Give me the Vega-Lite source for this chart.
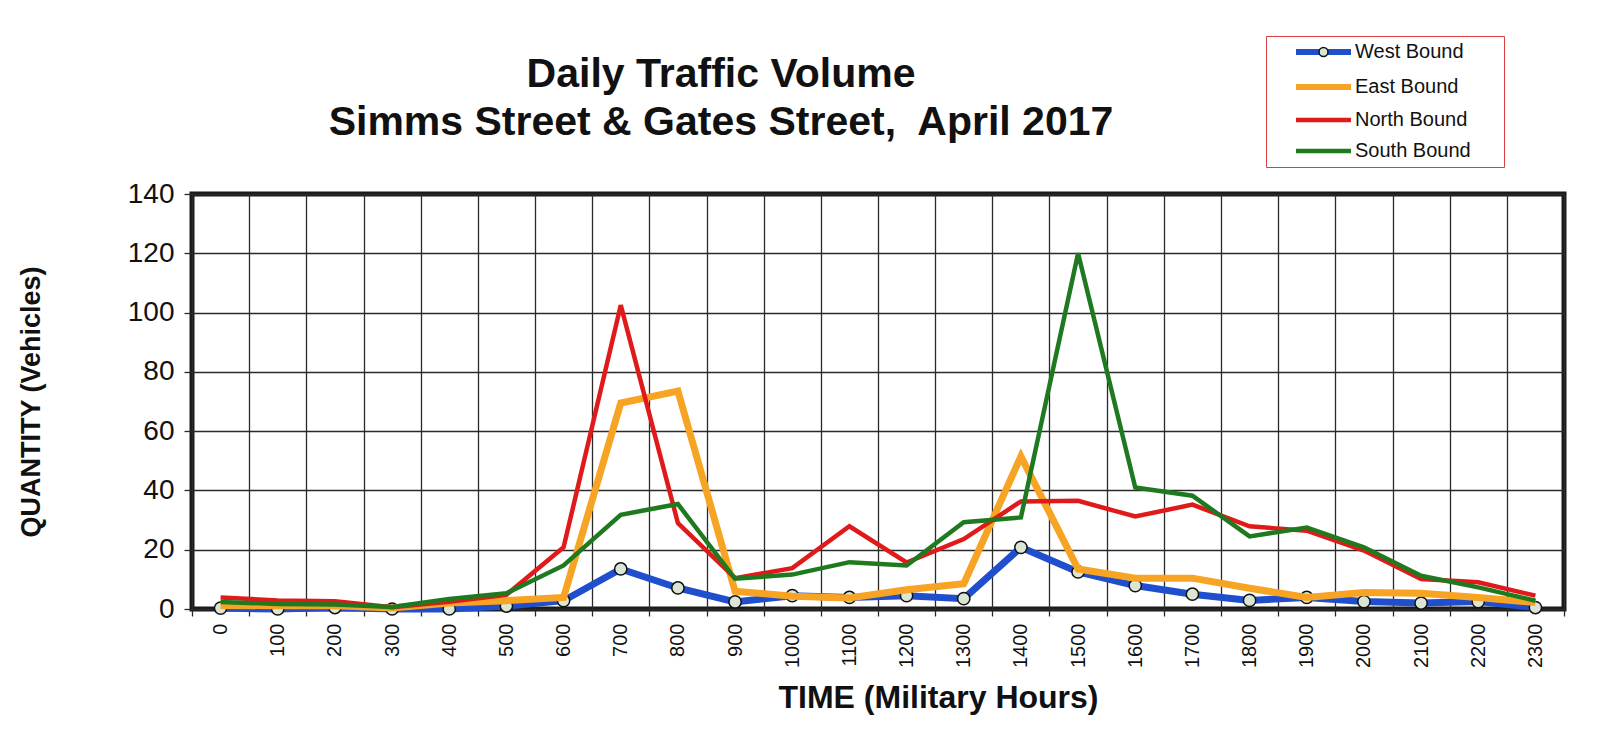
{
  "$schema": "https://vega.github.io/schema/vega-lite/v6.json",
  "autosize": {"type": "none"},
  "padding": {"left": 192, "top": 194, "right": 50, "bottom": 137},
  "width": 1372,
  "height": 415,
  "background": "white",
  "title": {
    "text": ["Daily Traffic Volume", "Simms Street & Gates Street,\u00a0 April 2017"],
    "font": "Liberation Sans",
    "fontSize": 41,
    "fontWeight": "bold",
    "lineHeight": 47.5,
    "color": "#111111",
    "anchor": "middle",
    "dx": -157,
    "dy": 138,
    "offset": 30
  },
  "data": {
    "values": [
      {"t": 0, "West Bound": 0.3, "East Bound": 1.2, "North Bound": 3.9, "South Bound": 2.4},
      {"t": 100, "West Bound": 0, "East Bound": 1.1, "North Bound": 2.9, "South Bound": 1.7},
      {"t": 200, "West Bound": 0.5, "East Bound": 1.1, "North Bound": 2.6, "South Bound": 1.5},
      {"t": 300, "West Bound": 0, "East Bound": 0.3, "North Bound": 0.6, "South Bound": 0.7},
      {"t": 400, "West Bound": 0, "East Bound": 2, "North Bound": 2.4, "South Bound": 3.4},
      {"t": 500, "West Bound": 1, "East Bound": 2.8, "North Bound": 4.8, "South Bound": 5.3},
      {"t": 600, "West Bound": 2.8, "East Bound": 3.9, "North Bound": 20.8, "South Bound": 14.7},
      {"t": 700, "West Bound": 13.5, "East Bound": 69.5, "North Bound": 102.5, "South Bound": 31.8},
      {"t": 800, "West Bound": 7.1, "East Bound": 73.5, "North Bound": 29, "South Bound": 35.4},
      {"t": 900, "West Bound": 2.4, "East Bound": 6, "North Bound": 10.4, "South Bound": 10.2},
      {"t": 1000, "West Bound": 4.5, "East Bound": 4.3, "North Bound": 13.8, "South Bound": 11.6},
      {"t": 1100, "West Bound": 3.9, "East Bound": 3.7, "North Bound": 27.9, "South Bound": 15.8},
      {"t": 1200, "West Bound": 4.5, "East Bound": 6.5, "North Bound": 15.7, "South Bound": 14.7},
      {"t": 1300, "West Bound": 3.5, "East Bound": 8.5, "North Bound": 23.6, "South Bound": 29.3},
      {"t": 1400, "West Bound": 20.8, "East Bound": 51.5, "North Bound": 36.3, "South Bound": 30.9},
      {"t": 1500, "West Bound": 12.5, "East Bound": 13.5, "North Bound": 36.5, "South Bound": 120},
      {"t": 1600, "West Bound": 7.9, "East Bound": 10.4, "North Bound": 31.2, "South Bound": 41},
      {"t": 1700, "West Bound": 5, "East Bound": 10.4, "North Bound": 35.2, "South Bound": 38.2},
      {"t": 1800, "West Bound": 2.9, "East Bound": 7, "North Bound": 27.9, "South Bound": 24.5},
      {"t": 1900, "West Bound": 3.9, "East Bound": 3.9, "North Bound": 26.4, "South Bound": 27.5},
      {"t": 2000, "West Bound": 2.5, "East Bound": 5.6, "North Bound": 19.7, "South Bound": 20.8},
      {"t": 2100, "West Bound": 2, "East Bound": 5.3, "North Bound": 10.1, "South Bound": 11.2},
      {"t": 2200, "West Bound": 2.5, "East Bound": 3.9, "North Bound": 9, "South Bound": 7.3},
      {"t": 2300, "West Bound": 0.5, "East Bound": 2.2, "North Bound": 4.5, "South Bound": 2.8}
    ]
  },
  "transform": [
    {"fold": ["West Bound", "East Bound", "North Bound", "South Bound"], "as": ["dir", "v"]}
  ],
  "encoding": {
    "x": {
      "field": "t",
      "type": "ordinal",
      "sort": "ascending",
      "scale": {"type": "band", "paddingInner": 0, "paddingOuter": 0},
      "axis": {
        "title": "TIME (Military Hours)",
        "titleFontSize": 32,
        "titleFontWeight": "bold",
        "titleX": 746,
        "titleY": 88,
        "titleAlign": "center",
        "titleBaseline": "middle",
        "labelAngle": -90,
        "labelFontSize": 20,
        "labelPadding": 7,
        "tickSize": 7,
        "tickBand": "extent",
        "grid": true
      }
    },
    "y": {
      "field": "v",
      "type": "quantitative",
      "scale": {"domain": [0, 140], "nice": false},
      "axis": {
        "title": "QUANTITY (Vehicles)",
        "titleFontSize": 27,
        "titleFontWeight": "bold",
        "titleAngle": -90,
        "titleX": -161,
        "titleY": 207.5,
        "titleAlign": "center",
        "titleBaseline": "middle",
        "values": [0, 20, 40, 60, 80, 100, 120, 140],
        "labelFontSize": 28,
        "labelPadding": 10,
        "tickSize": 8,
        "grid": true
      }
    },
    "color": {
      "field": "dir",
      "type": "nominal",
      "scale": {
        "domain": ["West Bound", "East Bound", "North Bound", "South Bound"],
        "range": ["#1f4fcc", "#f7a323", "#e01a1a", "#1f7a1f"]
      },
      "legend": {
        "orient": "none",
        "legendX": 1074,
        "legendY": -158,
        "title": null,
        "padding": 6,
        "strokeColor": "#d94040",
        "fillColor": "white",
        "labelFont": "Liberation Sans",
        "labelFontSize": 20,
        "labelColor": "#111111",
        "labelLimit": 144,
        "symbolType": "M-2.75,0H2.75",
        "symbolSize": 400,
        "symbolStrokeWidth": 6,
        "rowPadding": 11,
        "symbolOffset": 41.5,
        "labelOffset": 21.5,
        "labelExpr": "datum.label + '\u2800\u2800\u2800\u2800\u2800\u2800\u2800\u2800\u2800\u2800'",
        "encode": {
          "labels": {
            "update": {
              "ellipsis": {"value": "\u2800"}
            }
          },
          "symbols": {
            "update": {
              "strokeWidth": {"signal": "indexof(['West Bound','East Bound'], datum.value) >= 0 ? 6 : 4.5"}
            }
          }
        }
      }
    }
  },
  "layer": [
    {
      "transform": [{"filter": "datum.dir === 'West Bound'"}],
      "mark": {"type": "line", "strokeWidth": 7}
    },
    {
      "transform": [{"filter": "datum.dir === 'West Bound'"}],
      "mark": {"type": "point", "filled": true, "size": 150, "stroke": "#111111", "strokeWidth": 1.5, "opacity": 1},
      "encoding": {
        "color": null,
        "fill": {
          "field": "dir",
          "type": "nominal",
          "scale": {"domain": ["West Bound"], "range": ["#dbe5d5"]},
          "legend": {
            "orient": "none",
            "legendX": 1074,
            "legendY": -158,
            "title": null,
            "padding": 6,
            "labelExpr": "''",
            "symbolType": "circle",
            "symbolSize": 80,
            "symbolOffset": 41.5,
            "symbolStrokeColor": "#111111",
            "symbolStrokeWidth": 1.5,
            "labelFontSize": 20
          }
        }
      }
    },
    {
      "transform": [{"filter": "datum.dir === 'East Bound'"}],
      "mark": {"type": "line", "strokeWidth": 7}
    },
    {
      "transform": [{"filter": "datum.dir === 'North Bound'"}],
      "mark": {"type": "line", "strokeWidth": 4.5}
    },
    {
      "transform": [{"filter": "datum.dir === 'South Bound'"}],
      "mark": {"type": "line", "strokeWidth": 4.5}
    }
  ],
  "config": {
    "view": {"stroke": "#1a1a1a", "strokeWidth": 5},
    "axis": {
      "domain": false,
      "gridColor": "#2a2a2a",
      "gridWidth": 1.3,
      "gridOpacity": 1,
      "tickColor": "#2a2a2a",
      "tickWidth": 1.3,
      "labelColor": "#111111",
      "titleColor": "#111111",
      "labelFont": "Liberation Sans",
      "titleFont": "Liberation Sans"
    }
  }
}
